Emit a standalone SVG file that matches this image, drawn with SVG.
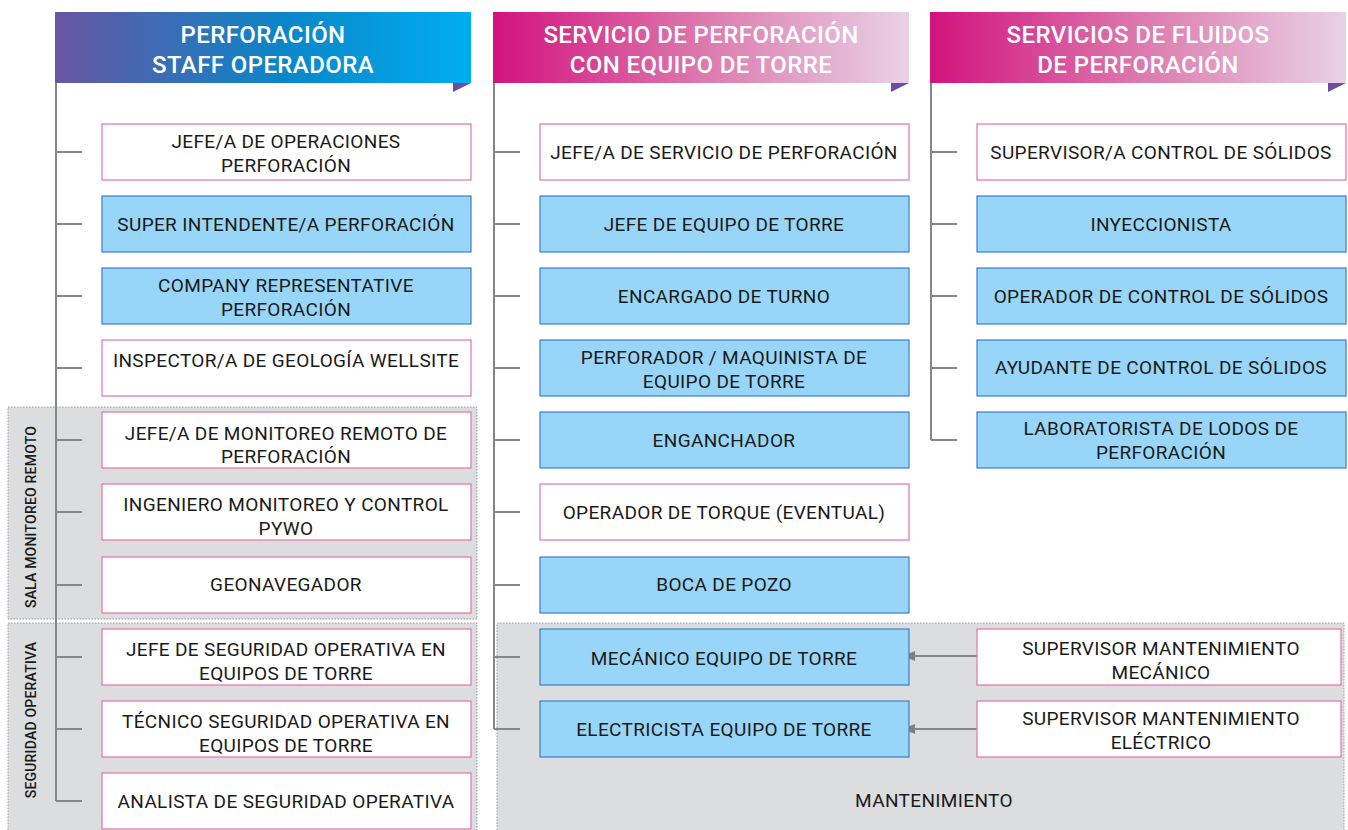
<svg xmlns="http://www.w3.org/2000/svg" width="1348" height="830" viewBox="0 0 1348 830">
<defs>
<linearGradient id="g1" x1="0" y1="0" x2="1" y2="0">
<stop offset="0" stop-color="#6855a2"/>
<stop offset="0.55" stop-color="#0a86c8"/>
<stop offset="1" stop-color="#00aeef"/>
</linearGradient>
<linearGradient id="g2" x1="0" y1="0" x2="1" y2="0">
<stop offset="0" stop-color="#d3127e"/>
<stop offset="0.5" stop-color="#dc78ac"/>
<stop offset="1" stop-color="#e8d2e7"/>
</linearGradient>
<marker id="arr" markerWidth="12" markerHeight="10" refX="11" refY="5" orient="auto" markerUnits="userSpaceOnUse">
<path d="M0,0 L12,5 L0,10 Z" fill="#7f7f7f"/>
</marker>
</defs>
<style>
.hdr{font-family:Roboto,"Liberation Sans",sans-serif;font-size:24px;font-weight:500;letter-spacing:0.4px;fill:#fff;text-anchor:middle}
.t{font-family:Roboto,"Liberation Sans",sans-serif;font-size:19px;letter-spacing:0.35px;fill:#1a1a1a;text-anchor:middle}
.v{font-family:Roboto,"Liberation Sans",sans-serif;font-size:14px;font-weight:500;letter-spacing:0.2px;fill:#1a1a1a;text-anchor:middle}
.w{fill:#fff;stroke:#e871a9;stroke-width:1.2}
.b{fill:#98d6f9;stroke:#3c7cc4;stroke-width:1.2}
.ln{stroke:#878787;stroke-width:2;fill:none}
.zone{fill:#dcdddf;stroke:#9a9a9a;stroke-width:1;stroke-dasharray:1.5 1.5}
.tri{fill:#6a4fa0}
</style>

<g id="zones">
<rect class="zone" x="8" y="407" width="469" height="212"/>
<rect class="zone" x="8" y="623" width="469" height="212"/>
<rect class="zone" x="497" y="623" width="847" height="212"/>
<text class="v" transform="translate(36,517) rotate(-90)">SALA MONITOREO REMOTO</text>
<text class="v" transform="translate(36,720) rotate(-90)">SEGURIDAD OPERATIVA</text>
<text class="t" x="934" y="807">MANTENIMIENTO</text>
</g>

<g id="headers">
<g id="h1">
<rect x="55" y="12" width="416" height="71" fill="url(#g1)"/>
<path class="tri" d="M453,83 L471,83 L453,92 Z"/>
<text class="hdr" x="263" y="43">PERFORACIÓN</text>
<text class="hdr" x="263" y="73">STAFF OPERADORA</text>
</g>
<g id="h2">
<rect x="493" y="12" width="416" height="71" fill="url(#g2)"/>
<path class="tri" d="M891,83 L909,83 L891,92 Z"/>
<text class="hdr" x="701" y="43">SERVICIO DE PERFORACIÓN</text>
<text class="hdr" x="701" y="73">CON EQUIPO DE TORRE</text>
</g>
<g id="h3">
<rect x="930" y="12" width="416" height="71" fill="url(#g2)"/>
<path class="tri" d="M1328,83 L1346,83 L1328,92 Z"/>
<text class="hdr" x="1138" y="43">SERVICIOS DE FLUIDOS</text>
<text class="hdr" x="1138" y="73">DE PERFORACIÓN</text>
</g>
</g>

<g id="connectors">
<path class="ln" d="M56,83 V801 M494,83 V729 M931,83 V440"/>
<path class="ln" d="M56,152 H82 M56,224 H82 M56,296 H82 M56,368 H82 M56,440 H82 M56,512 H82 M56,585 H82 M56,657 H82 M56,729 H82 M56,801 H82"/>
<path class="ln" d="M494,152 H520 M494,224 H520 M494,296 H520 M494,368 H520 M494,440 H520 M494,512 H520 M494,585 H520 M494,657 H520 M494,729 H520"/>
<path class="ln" d="M931,152 H957 M931,224 H957 M931,296 H957 M931,368 H957 M931,440 H957"/>
<path class="ln" d="M983,656 H904" marker-end="url(#arr)"/>
<path class="ln" d="M983,729 H904" marker-end="url(#arr)"/>
</g>

<g id="col1">
<g id="n1"><rect class="w" x="102" y="124" width="369" height="56"/><text class="t" x="286" y="148">JEFE/A DE OPERACIONES</text><text class="t" x="286" y="172">PERFORACIÓN</text></g>
<g id="n2"><rect class="b" x="102" y="196" width="369" height="56"/><text class="t" x="286" y="231">SUPER INTENDENTE/A PERFORACIÓN</text></g>
<g id="n3"><rect class="b" x="102" y="268" width="369" height="56"/><text class="t" x="286" y="292">COMPANY REPRESENTATIVE</text><text class="t" x="286" y="316">PERFORACIÓN</text></g>
<g id="n4"><rect class="w" x="102" y="340" width="369" height="56"/><text class="t" x="286" y="367">INSPECTOR/A DE GEOLOGÍA WELLSITE</text></g>
<g id="n5"><rect class="w" x="102" y="412" width="369" height="56"/><text class="t" x="286" y="440">JEFE/A DE MONITOREO REMOTO DE</text><text class="t" x="286" y="463">PERFORACIÓN</text></g>
<g id="n6"><rect class="w" x="102" y="484" width="369" height="56"/><text class="t" x="286" y="511">INGENIERO MONITOREO Y CONTROL</text><text class="t" x="286" y="535">PYWO</text></g>
<g id="n7"><rect class="w" x="102" y="557" width="369" height="56"/><text class="t" x="286" y="591">GEONAVEGADOR</text></g>
<g id="n8"><rect class="w" x="102" y="629" width="369" height="56"/><text class="t" x="286" y="656">JEFE DE SEGURIDAD OPERATIVA EN</text><text class="t" x="286" y="680">EQUIPOS DE TORRE</text></g>
<g id="n9"><rect class="w" x="102" y="701" width="369" height="56"/><text class="t" x="286" y="728">TÉCNICO SEGURIDAD OPERATIVA EN</text><text class="t" x="286" y="752">EQUIPOS DE TORRE</text></g>
<g id="n10"><rect class="w" x="102" y="773" width="369" height="56"/><text class="t" x="286" y="808">ANALISTA DE SEGURIDAD OPERATIVA</text></g>
</g>

<g id="col2">
<g id="m1"><rect class="w" x="540" y="124" width="369" height="56"/><text class="t" x="724" y="159">JEFE/A DE SERVICIO DE PERFORACIÓN</text></g>
<g id="m2"><rect class="b" x="540" y="196" width="369" height="56"/><text class="t" x="724" y="231">JEFE DE EQUIPO DE TORRE</text></g>
<g id="m3"><rect class="b" x="540" y="268" width="369" height="56"/><text class="t" x="724" y="303">ENCARGADO DE TURNO</text></g>
<g id="m4"><rect class="b" x="540" y="340" width="369" height="56"/><text class="t" x="724" y="364">PERFORADOR / MAQUINISTA DE</text><text class="t" x="724" y="388">EQUIPO DE TORRE</text></g>
<g id="m5"><rect class="b" x="540" y="412" width="369" height="56"/><text class="t" x="724" y="447">ENGANCHADOR</text></g>
<g id="m6"><rect class="w" x="540" y="484" width="369" height="56"/><text class="t" x="724" y="519">OPERADOR DE TORQUE (EVENTUAL)</text></g>
<g id="m7"><rect class="b" x="540" y="557" width="369" height="56"/><text class="t" x="724" y="591">BOCA DE POZO</text></g>
<g id="m8"><rect class="b" x="540" y="629" width="369" height="56"/><text class="t" x="724" y="665">MECÁNICO EQUIPO DE TORRE</text></g>
<g id="m9"><rect class="b" x="540" y="701" width="369" height="56"/><text class="t" x="724" y="736">ELECTRICISTA EQUIPO DE TORRE</text></g>
</g>

<g id="col3">
<g id="f1"><rect class="w" x="977" y="124" width="369" height="56"/><text class="t" x="1161" y="159">SUPERVISOR/A CONTROL DE SÓLIDOS</text></g>
<g id="f2"><rect class="b" x="977" y="196" width="369" height="56"/><text class="t" x="1161" y="231">INYECCIONISTA</text></g>
<g id="f3"><rect class="b" x="977" y="268" width="369" height="56"/><text class="t" x="1161" y="303">OPERADOR DE CONTROL DE SÓLIDOS</text></g>
<g id="f4"><rect class="b" x="977" y="340" width="369" height="56"/><text class="t" x="1161" y="374">AYUDANTE DE CONTROL DE SÓLIDOS</text></g>
<g id="f5"><rect class="b" x="977" y="412" width="369" height="56"/><text class="t" x="1161" y="435">LABORATORISTA DE LODOS DE</text><text class="t" x="1161" y="459">PERFORACIÓN</text></g>
<g id="s1"><rect class="w" x="977" y="629" width="364" height="56"/><text class="t" x="1161" y="655">SUPERVISOR MANTENIMIENTO</text><text class="t" x="1161" y="679">MECÁNICO</text></g>
<g id="s2"><rect class="w" x="977" y="701" width="364" height="56"/><text class="t" x="1161" y="725">SUPERVISOR MANTENIMIENTO</text><text class="t" x="1161" y="749">ELÉCTRICO</text></g>
</g>
</svg>
